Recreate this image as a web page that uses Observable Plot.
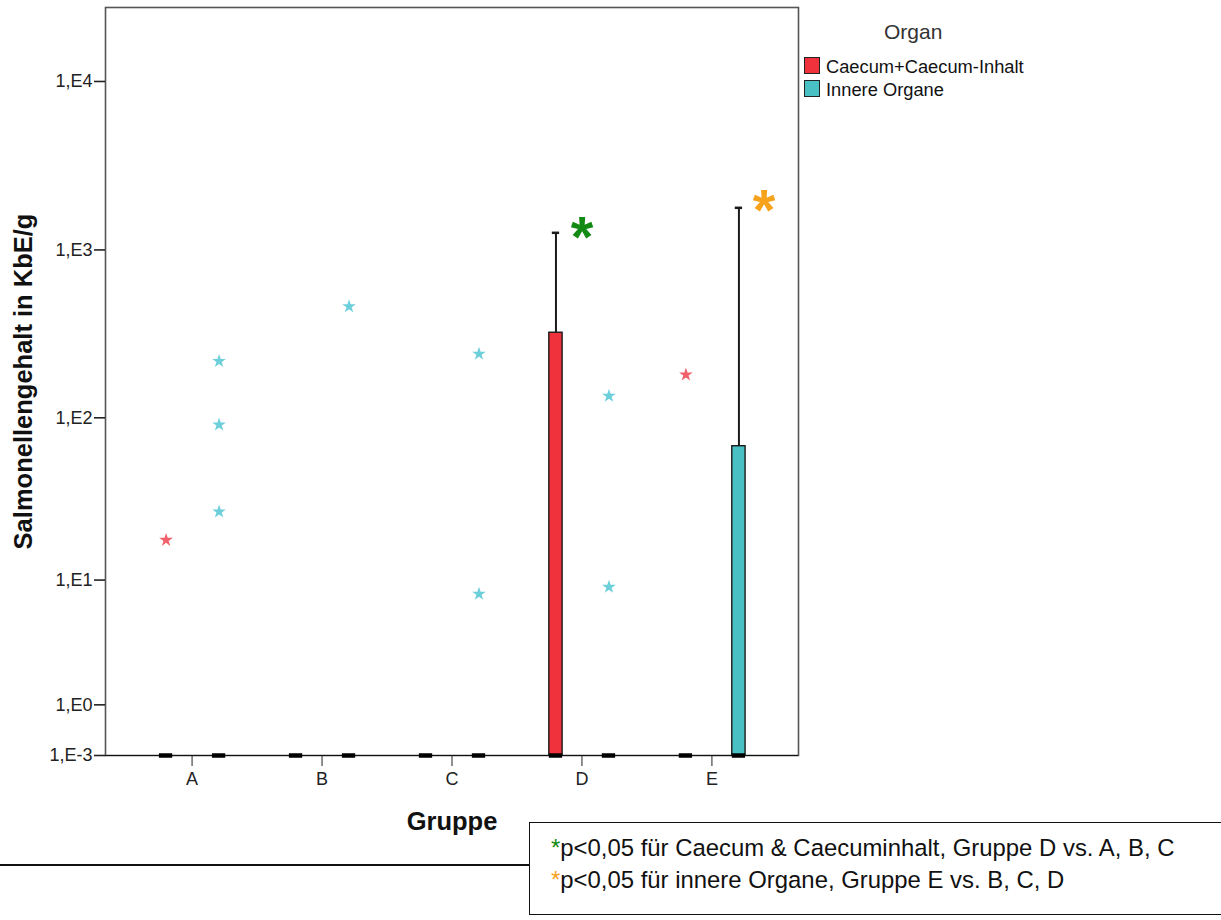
<!DOCTYPE html>
<html>
<head>
<meta charset="utf-8">
<script src="https://cdn.jsdelivr.net/npm/d3@7"></script>
<script src="https://cdn.jsdelivr.net/npm/@observablehq/plot@0.6"></script>
<style>
  body { margin: 0; background: #fff; font-family: "Liberation Sans", Arial, sans-serif; }
  #wrap { position: relative; width: 1221px; height: 920px; overflow: hidden; background: #fff; }
  #chart { position: absolute; left: 0; top: 0; }
  .abs { position: absolute; white-space: nowrap; }
  #legendTitle { left: 884px; top: 21px; font-size: 21px; line-height: 21px; color: #333; }
  .sw { position: absolute; width: 14px; height: 15px; border: 1.3px solid #222; }
  .lt { position: absolute; font-size: 18.3px; line-height: 22px; color: #111; }
  #note { left: 529px; top: 822px; width: 720px; height: 93px; border: 1.6px solid #111; box-sizing: border-box; }
  .nl { position: absolute; left: 21px; font-size: 23.9px; line-height: 30px; color: #111; }
  #hline { left: 0; top: 864px; width: 530px; height: 2.4px; background: #111; }
</style>
</head>
<body>
<div id="wrap">
  <div id="chart"></div>
  <div id="legend"></div>
  <div id="hline" class="abs"></div>
  <div id="note" class="abs"></div>
</div>
<script>
// ---------- data ----------
const groups = ["A", "B", "C", "D", "E"];
const organs = ["Caecum+Caecum-Inhalt", "Innere Organe"];
const organColors = ["#ef323c", "#49c0c4"];
const starColors = ["#f0505c", "#5ccad6"];

// box statistics per group (1E-3 is the floor of the axis)
const caecumMedian = [0.001, 0.001, 0.001, 0.001, 0.001];
const caecumQ3 = [0.001, 0.001, 0.001, 322, 0.001];
const caecumWhiskerHigh = [0.001, 0.001, 0.001, 1264, 0.001];
const innereMedian = [0.001, 0.001, 0.001, 0.001, 0.001];
const innereQ3 = [0.001, 0.001, 0.001, 0.001, 67.5];
const innereWhiskerHigh = [0.001, 0.001, 0.001, 0.001, 1779];

// extreme values (stars)
const outlierGroup = ["A", "A", "A", "A", "B", "C", "C", "D", "D", "E"];
const outlierOrgan = [organs[0], organs[1], organs[1], organs[1], organs[1], organs[1], organs[1], organs[1], organs[1], organs[0]];
const outlierValue = [18, 218, 91, 27, 461, 241, 8.1, 135, 9, 181];

const yTickValues = [0.001, 1, 10, 100, 1000, 10000];
const yTickLabels = ["1,E-3", "1,E0", "1,E1", "1,E2", "1,E3", "1,E4"];

// significance markers
const sigGroup = ["D", "E"];
const sigValue = [1602, 2307];
const sigColor = ["#138a13", "#f7a21b"];
const noteLines = [
  "p<0,05 für Caecum & Caecuminhalt, Gruppe D vs. A, B, C",
  "p<0,05 für innere Organe, Gruppe E vs. B, C, D"
];

// ---------- build ----------
const medians = [caecumMedian, innereMedian];
const q3s = [caecumQ3, innereQ3];
const his = [caecumWhiskerHigh, innereWhiskerHigh];
const rowsByOrgan = organs.map((organ, k) =>
  groups.map((g, i) => ({group: g, organ, median: medians[k][i], q3: q3s[k][i], hi: his[k][i]})));
const outliers = outlierGroup.map((g, i) => ({group: g, organ: outlierOrgan[i], value: outlierValue[i]}));

const organDx = [-26, 27];
const sigDx = [0, 52];

const marks = [
  Plot.frame({stroke: "#555", strokeWidth: 1.6}),
  Plot.ruleY([0.001], {stroke: "#111", strokeWidth: 1.2})
];
organs.forEach((organ, k) => {
  const rows = rowsByOrgan[k];
  const dx = organDx[k];
  marks.push(
    Plot.barY(rows.filter(d => d.q3 > d.median), {x: "group", y1: "median", y2: "q3", fill: "organ", stroke: "#1b1b1b", strokeWidth: 1.4, dx}),
    Plot.ruleX(rows.filter(d => d.hi > d.q3), {x: "group", y1: "q3", y2: "hi", stroke: "#1b1b1b", strokeWidth: 2, dx}),
    Plot.tickY(rows.filter(d => d.hi > d.q3), {x: "group", y: "hi", stroke: "#1b1b1b", strokeWidth: 2.5, insetLeft: 3, insetRight: 3, dx}),
    Plot.tickY(rows, {x: "group", y: "median", stroke: "#000", strokeWidth: 4.5, dx}),
    Plot.dot(outliers.filter(d => d.organ === organ), {x: "group", y: "value", symbol: "star", r: 4.3, fill: starColors[k], fillOpacity: 0.9, dx})
  );
});
sigGroup.forEach((g, i) => {
  marks.push(Plot.text([{group: g, value: sigValue[i]}], {
    x: "group", y: "value", text: () => "*", dx: sigDx[i],
    fill: sigColor[i], fontSize: 58, fontWeight: "bold", lineAnchor: "top", textAnchor: "middle"
  }));
});
marks.push(
  Plot.axisY({ticks: yTickValues, tickFormat: d => yTickLabels[yTickValues.indexOf(d)], tickSize: 11, tickPadding: 2, fontSize: 18, color: "#222", strokeWidth: 1.6, label: null}),
  Plot.axisX({tickSize: 11, tickPadding: 6, fontSize: 18, color: "#222", label: null}),
  Plot.text(["Salmonellengehalt in KbE/g"], {frameAnchor: "left", rotate: -90, dx: -82, fontSize: 25.5, fontWeight: "bold", fill: "#111", textAnchor: "middle", lineAnchor: "middle"}),
  Plot.text(["Gruppe"], {frameAnchor: "bottom", dy: 66, fontSize: 25.5, fontWeight: "bold", fill: "#111", textAnchor: "middle", lineAnchor: "middle"})
);

const plot = Plot.plot({
  width: 1221,
  height: 860,
  marginLeft: 105,
  marginRight: 423,
  marginTop: 7,
  marginBottom: 105,
  style: {fontFamily: "'Liberation Sans', Arial, sans-serif", background: "transparent"},
  x: {type: "band", domain: groups, paddingInner: 0.8977, paddingOuter: 0.615, round: false},
  y: {type: "symlog", domain: [0.001, 27480], nice: false},
  color: {domain: organs, range: organColors},
  marks
});
document.getElementById("chart").appendChild(plot);

// legend (from the plot's color scale)
const legend = document.getElementById("legend");
const title = document.createElement("div");
title.className = "abs"; title.id = "legendTitle"; title.textContent = "Organ";
legend.appendChild(title);
const cs = plot.scale("color");
cs.domain.forEach((organ, i) => {
  const sw = document.createElement("div");
  sw.className = "sw";
  sw.style.left = "804px"; sw.style.top = (57 + i * 23) + "px";
  sw.style.background = cs.range[i];
  legend.appendChild(sw);
  const t = document.createElement("div");
  t.className = "lt";
  t.style.left = "826px"; t.style.top = (56 + i * 23) + "px";
  t.textContent = organ;
  legend.appendChild(t);
});

// note box
const note = document.getElementById("note");
noteLines.forEach((line, i) => {
  const d = document.createElement("div");
  d.className = "nl";
  d.style.top = (10 + i * 32) + "px";
  const s = document.createElement("span");
  s.style.color = sigColor[i];
  s.textContent = "*";
  d.appendChild(s);
  d.appendChild(document.createTextNode(line));
  note.appendChild(d);
});
</script>
</body>
</html>
